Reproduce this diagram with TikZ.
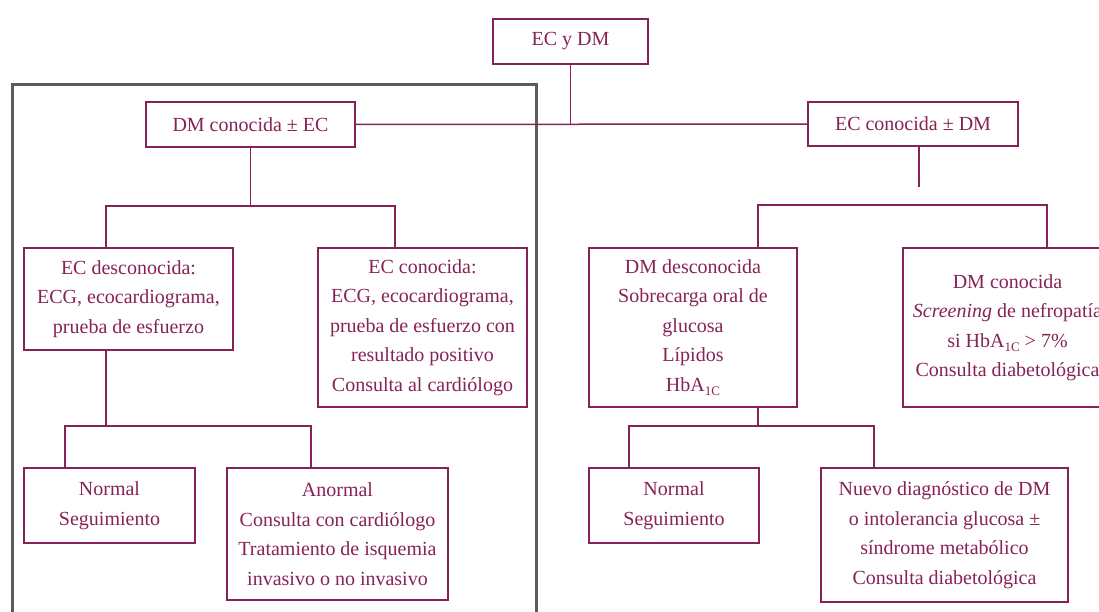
\documentclass[tikz,border=0pt]{standalone}
\usepackage{fontspec}
\setmainfont{Liberation Serif}
\usetikzlibrary{positioning}
\definecolor{mwine}{HTML}{862255}
\definecolor{mframe}{HTML}{5C5C5C}
\tikzstyle{box} = [rectangle, draw = mwine, line width = 1.6pt, text = mwine, inner sep = 0pt, align = center, font = \fontsize{20}{29.5}\selectfont]
\tikzstyle{link} = [draw = mwine, line width = 1.5pt]
\tikzstyle{frame} = [draw = mframe, line width = 3pt]
\newcommand{\hbaic}{HbA\raisebox{-0.5ex}{\fontsize{13}{13}\selectfont 1C}}

\begin{document}
\begin{tikzpicture}[x=1pt, y=-1pt]
  \useasboundingbox (0,0) rectangle (1099,612);
  \draw [frame] (12,85) rectangle (536,640);
  % top levels
  \node (top) [box, minimum width = 155pt, minimum height = 45pt] at (570.5,41.5) {EC y DM};
  \node (dmec) [box, minimum width = 209pt, minimum height = 45pt] at (250.5,124.5) {DM conocida ± EC};
  \node (ecdm) [box, minimum width = 210pt, minimum height = 44pt] at (913,124) {EC conocida ± DM};
  % left side
  \node (ecdes) [box, minimum width = 209pt, minimum height = 102pt] at (128.5,299) {EC desconocida:\\ECG, ecocardiograma,\\prueba de esfuerzo};
  \node (eccon) [box, minimum width = 209pt, minimum height = 159pt] at (422.5,327.5) {EC conocida:\\ECG, ecocardiograma,\\prueba de esfuerzo con\\resultado positivo\\Consulta al cardiólogo};
  \node (normL) [box, minimum width = 171pt, minimum height = 75pt] at (109.5,505.5) {Normal\\Seguimiento};
  \node (anorm) [box, minimum width = 221pt, minimum height = 132pt] at (337.5,534) {Anormal\\Consulta con cardiólogo\\Tratamiento de isquemia\\invasivo o no invasivo};
  % right side
  \node (dmdes) [box, minimum width = 208pt, minimum height = 159pt] at (693,327.5) {DM desconocida\\Sobrecarga oral de\\glucosa\\Lípidos\\\hbaic};
  \node (dmcon) [box, minimum width = 209pt, minimum height = 159pt] at (1007.5,327.5) {DM conocida\\\emph{Screening} de nefropatía\\si \hbaic{} > 7\%\\Consulta diabetológica};
  \node (normR) [box, minimum width = 170pt, minimum height = 75pt] at (674,505.5) {Normal\\Seguimiento};
  \node (nuevo) [box, minimum width = 247pt, minimum height = 134pt] at (944.5,535) {Nuevo diagnóstico de DM\\o intolerancia glucosa ±\\síndrome metabólico\\Consulta diabetológica};
  % junctions
  \coordinate (jl1) at (106,206);
  \coordinate (jr1) at (395,206);
  \coordinate (jl2) at (65,426);
  \coordinate (jm2) at (106,426);
  \coordinate (jr2) at (311,426);
  \coordinate (stub) at (919,187);
  \coordinate (jl3) at (758,205);
  \coordinate (jr3) at (1047,205);
  \coordinate (jl4) at (629,426);
  \coordinate (jm4) at (758,426);
  \coordinate (jr4) at (874,426);
  % connectors
  \draw [link] (top) -- (top |- dmec);
  \draw [link] (dmec) -- (ecdm);
  \draw [link] (ecdm.south -| stub) -- (stub);
  \draw [link] (dmec) -- (dmec |- jl1);
  \draw [link] (ecdes.north -| jl1) -- (jl1) -- (jr1) -- (eccon.north -| jr1);
  \draw [link] (ecdes.south -| jm2) -- (jm2);
  \draw [link] (normL.north -| jl2) -- (jl2) -- (jr2) -- (anorm.north -| jr2);
  \draw [link] (dmdes.north -| jl3) -- (jl3) -- (jr3) -- (dmcon.north -| jr3);
  \draw [link] (dmdes.south -| jm4) -- (jm4);
  \draw [link] (normR.north -| jl4) -- (jl4) -- (jr4) -- (nuevo.north -| jr4);
\end{tikzpicture}
\end{document}
